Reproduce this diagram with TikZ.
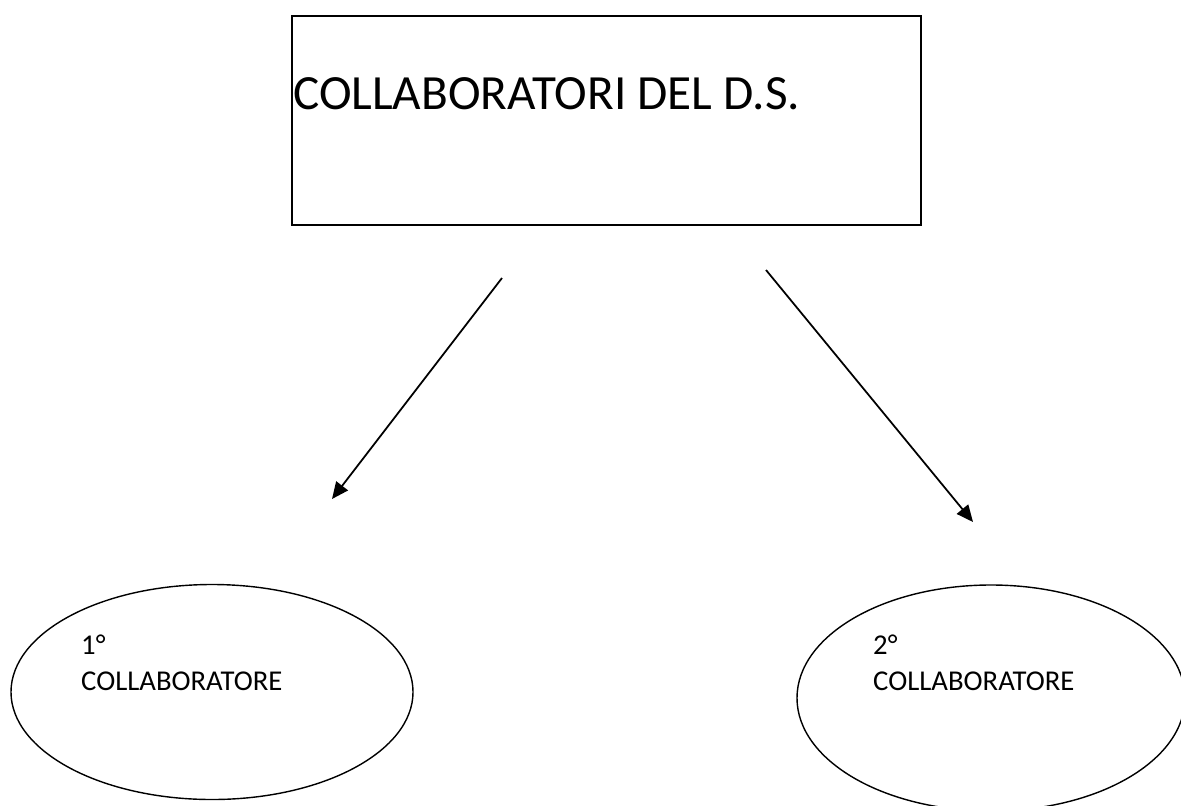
\documentclass[tikz,border=0pt]{standalone}
\usepackage{fontspec}
\setmainfont{Carlito}
\usetikzlibrary{arrows.meta,shapes.geometric}

\tikzset{
  linea/.style={line width=1.5pt},
  flecha/.style={linea, -{Triangle[length=5mm,width=4.4mm]}},
  elipse/.style={line width=1.2pt, draw, ellipse},
  rotulo/.style={anchor=base west, inner sep=0pt, font=\fontsize{24.5}{30.6}\selectfont, align=left}
}

\begin{document}
\begin{tikzpicture}[x=0.03cm, y=-0.03cm]
% Marco de la imagen
\useasboundingbox (0,0) rectangle (1181,805);

% La caja de arriba con el titulo
\node[linea, draw, minimum width=18.87cm, minimum height=6.27cm, anchor=north west] (caja) at (291,15) {};
\node[anchor=base west, inner sep=0pt, font=\fontsize{42}{50}\selectfont] (titulo) at (293,109) {COLLABORATORI DEL D.S.};

% Las dos elipses de los colaboradores
\node[elipse, minimum width=12.06cm, minimum height=6.45cm] (primero) at (212,692) {};
\node[elipse, minimum width=11.64cm, minimum height=6.78cm] (segundo) at (991,698) {};

% Y sus textos
\node[rotulo] (txtprimero) at (81,690) {1°\\COLLABORATORE};
\node[rotulo] (txtsegundo) at (873,690) {2°\\COLLABORATORE};

% Las flechas, que no tocan a nadie
\coordinate (salidaA) at (502,278);
\coordinate (llegadaA) at (332,499);
\coordinate (salidaB) at (766,270);
\coordinate (llegadaB) at (973,522);
\draw[flecha] (salidaA) -- (llegadaA);
\draw[flecha] (salidaB) -- (llegadaB);
\end{tikzpicture}
\end{document}
